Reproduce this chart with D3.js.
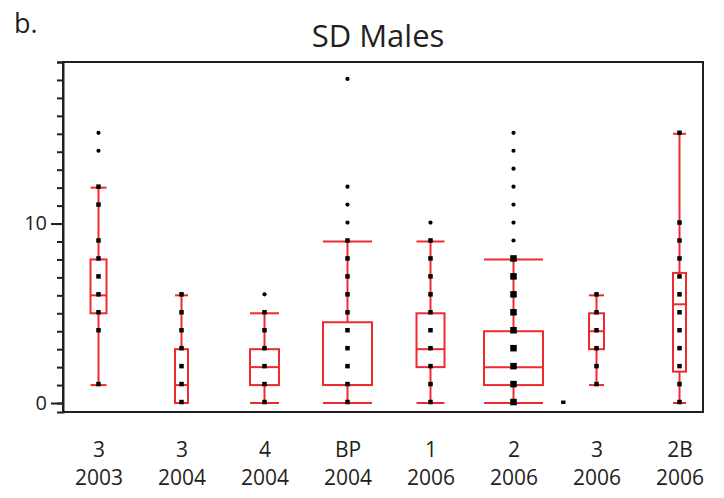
<!DOCTYPE html>
<html>
<head>
<meta charset="utf-8">
<script src="https://cdn.jsdelivr.net/npm/d3@7"></script>
<style>
  html, body { margin: 0; padding: 0; background: #fff; }
  svg { display: block; font-family: "Open Sans", sans-serif; }
</style>
</head>
<body>
<svg id="chart" width="724" height="498"></svg>
<script>
// ---- data ----
const siteLabels = ["3", "3", "4", "BP", "1", "2", "3", "2B"];
const yearLabels = ["2003", "2004", "2004", "2004", "2006", "2006", "2006", "2006"];
const sampleSize = [16, 13, 29, 49, 28, 59, 15, 13];
const q1 =          [5, 0, 1, 1,   2, 1, 3, 1.75];
const median =      [6, 1, 2, 1,   3, 2, 4, 5.5];
const q3 =          [8, 3, 3, 4.5, 5, 4, 5, 7.25];
const whiskerLow =  [1, 0, 0, 0,   0, 0, 1, 0];
const whiskerHigh = [12, 6, 5, 9,  9, 8, 6, 15];
const observed = [
  [1, 4, 5, 6, 7, 8, 9, 11, 12],
  [0, 1, 2, 3, 4, 5, 6],
  [0, 1, 2, 3, 4, 5],
  [0, 1, 2, 3, 4, 5, 6, 7, 8, 9],
  [0, 1, 2, 3, 4, 5, 6, 7, 8, 9],
  [0, 1, 2, 3, 4, 5, 6, 7, 8],
  [1, 2, 3, 4, 5, 6],
  [0, 1, 2, 3, 4, 5, 6, 7, 8, 9, 10, 15]
];
const outliers = [
  [14, 15],
  [],
  [6],
  [10, 11, 12, 18],
  [10],
  [9, 10, 11, 12, 13, 14, 15],
  [],
  []
];
const strayIndex = [5.6];
const strayValue = [0];
const yMinorTicks = d3.range(0, 20);
const yMajorTicks = [0, 10];

// ---- layout ----
const svg = d3.select("#chart");
const frame = { left: 63, top: 62, right: 703, bottom: 412 };
const red = "#ee2a2e";
const ink = "#231f20";

const x = d3.scaleLinear().domain([0, siteLabels.length - 1]).range([98.5, 679.5]);
const y = d3.scaleLinear().domain([-0.5, 19]).range([frame.bottom, frame.top]);
const w = d3.scaleLinear().domain([0, 60]).range([0, 60]);

// frame
svg.append("rect")
  .attr("x", frame.left).attr("y", frame.top)
  .attr("width", frame.right - frame.left).attr("height", frame.bottom - frame.top)
  .attr("fill", "none").attr("stroke", ink).attr("stroke-width", 2);

// y axis minor
const gMinor = svg.append("g").attr("transform", `translate(${frame.left},0)`)
  .call(d3.axisLeft(y).tickValues(yMinorTicks).tickSize(6).tickSizeOuter(6).tickFormat(""));
gMinor.selectAll("path, line").attr("stroke", ink).attr("stroke-width", 2);

// y axis major
const gMajor = svg.append("g").attr("transform", `translate(${frame.left},0)`)
  .call(d3.axisLeft(y).tickValues(yMajorTicks).tickSize(12).tickPadding(4).tickFormat(d3.format("d")));
gMajor.select(".domain").remove();
gMajor.selectAll("line").attr("stroke", ink).attr("stroke-width", 2);
gMajor.selectAll("text").attr("font-size", 20).attr("fill", ink)
  .attr("font-family", "'Open Sans', sans-serif");

// x axis labels
const gx = svg.append("g").attr("transform", `translate(0,${frame.bottom})`)
  .call(d3.axisBottom(x).tickValues(d3.range(siteLabels.length)).tickSize(0).tickFormat(""));
gx.select(".domain").remove();
gx.selectAll(".tick").each(function(d) {
  const t = d3.select(this).append("text")
    .attr("fill", ink).attr("font-size", 21).attr("text-anchor", "middle")
    .attr("font-family", "'Open Sans', sans-serif");
  t.append("tspan").attr("x", 0).attr("y", 44.5).text(siteLabels[d]);
  t.append("tspan").attr("x", 0).attr("y", 73).text(yearLabels[d]);
});

// boxes
const groups = d3.range(siteLabels.length);
const g = svg.append("g");
groups.forEach(i => {
  const cx = x(i);
  const hw = w(sampleSize[i]) / 2;
  const gg = g.append("g").attr("stroke", red).attr("stroke-width", 2).attr("fill", "none");
  // whiskers
  gg.append("line").attr("x1", cx).attr("x2", cx).attr("y1", y(whiskerHigh[i])).attr("y2", y(q3[i]));
  gg.append("line").attr("x1", cx).attr("x2", cx).attr("y1", y(q1[i])).attr("y2", y(whiskerLow[i]));
  // caps
  gg.append("line").attr("x1", cx - hw).attr("x2", cx + hw).attr("y1", y(whiskerHigh[i])).attr("y2", y(whiskerHigh[i]));
  gg.append("line").attr("x1", cx - hw).attr("x2", cx + hw).attr("y1", y(whiskerLow[i])).attr("y2", y(whiskerLow[i]));
  // box
  gg.append("rect").attr("x", cx - hw).attr("y", y(q3[i]))
    .attr("width", 2 * hw).attr("height", y(q1[i]) - y(q3[i]));
  // median
  gg.append("line").attr("x1", cx - hw).attr("x2", cx + hw).attr("y1", y(median[i])).attr("y2", y(median[i]));
});

// points
groups.forEach(i => {
  const cx = x(i);
  const s = sampleSize[i] > 50 ? 6.5 : 4.5;
  g.selectAll(null).data(observed[i]).enter().append("rect")
    .attr("x", cx - s / 2).attr("y", d => y(d) - s / 2 - 1)
    .attr("width", s).attr("height", s).attr("fill", "#000");
  g.selectAll(null).data(outliers[i]).enter().append("circle")
    .attr("cx", cx).attr("cy", d => y(d) - 1).attr("r", 2.1).attr("fill", "#000");
});
g.selectAll(null).data(strayIndex).enter().append("rect")
  .attr("x", (d) => x(d) - 2.2).attr("y", (d, k) => y(strayValue[k]) - 2.5)
  .attr("width", 4.4).attr("height", 3.4).attr("fill", "#000");

// title
svg.append("text").attr("x", 378).attr("y", 46.5).attr("text-anchor", "middle")
  .attr("font-size", 31).attr("fill", ink).text("SD Males");
svg.append("text").attr("x", 14).attr("y", 33).attr("font-size", 27).attr("fill", ink).text("b.");
</script>
</body>
</html>
